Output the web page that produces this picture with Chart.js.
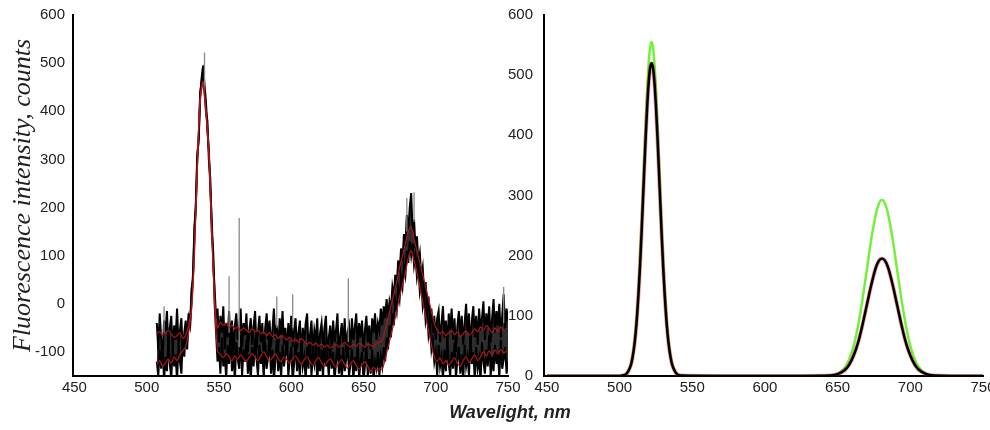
<!DOCTYPE html>
<html lang="en">
  <head>
    <meta charset="UTF-8" />
    <title>Fluorescence spectra</title>
    <script src="https://cdn.jsdelivr.net/npm/chart.js@4.4.0/dist/chart.umd.min.js"></script>
    <style>
      html,
      body {
        margin: 0;
        padding: 0;
        background: #fff;
        width: 990px;
        height: 430px;
        overflow: hidden;
      }
      .panel {
        position: absolute;
        top: 0;
      }
      #left {
        left: 0;
      }
      #right {
        left: 500px;
      }
      .xtitle {
        position: absolute;
        left: 410px;
        top: 402px;
        width: 200px;
        text-align: center;
        font: italic bold 18px 'Liberation Sans', Arial, sans-serif;
        color: #222;
      }
    </style>
  </head>
  <body>
    <canvas id="left" class="panel" width="524" height="430"></canvas>
    <canvas id="right" class="panel" width="500" height="430"></canvas>
    <div class="xtitle">Wavelight, nm</div>
    <script>
      // tick labels
      const xTicks = [450, 500, 550, 600, 650, 700, 750]
      const leftYTicks = [-100, 0, 100, 200, 300, 400, 500, 600]
      const rightYTicks = [0, 100, 200, 300, 400, 500, 600]

      // left panel: raw spectra, 1 nm step from 507 nm
      const rawStart = 507
      const rawUpper = [
        -40, -95, -20, -70, -115, -35, -60, -15, -90, -50,
        -25, -100, -45, -75, -10, -85, -55, -30, -105, -60,
        -35, -80, -30, -45, 10, 60, 140, 210, 300, 350,
        430, 470, 495, 455, 420, 360, 320, 240, 175, 90,
        30, -30, -10, -80, -25, -60, -5, -95, -40, -70,
        -15, -85, -35, -110, -45, -20, -75, -50, -10, -90,
        -40, -65, -20, -100, -55, -30, -85, -45, -15, -95,
        -60, -25, -80, -40, -110, -50, -20, -75, -35, -90,
        -55, -10, -70, -45, -100, -30, -65, -15, -85, -50,
        -105, -40, -75, -25, -90, -55, -30, -95, -60, -35,
        -110, -50, -80, -40, -20, -95, -65, -35, -100, -55,
        -75, -30, -115, -60, -40, -90, -50, -25, -105, -70,
        -45, -95, -35, -80, -55, -20, -110, -65, -40, -85,
        -30, -100, -60, -45, -95, -30, -75, -50, -20, -90,
        -40, -70, -35, -100, -55, -25, -80, -45, -95, -30,
        -60, -20, -75, -40, -55, -10, -45, -5, -30, 10,
        -30, 5, -10, 35, 15, 60, 35, 90, 65, 115,
        90, 145, 120, 185, 150, 200, 230, 150, 175, 115,
        140, 85, 105, 55, 75, 20, 45, -10, 15, -40,
        -10, -60, -25, -75, -30, -15, -80, -40, -5, -70,
        -35, -90, -20, -55, -10, -75, -30, -100, -45, -15,
        -65, -25, -85, -40, 0, -60, -20, -95, -35, -5,
        -70, -25, -85, -10, -55, -30, 5, -75, -20, -50,
        -5, -80, -30, 10, -60, -15, -45, 0, -70, -25,
        20, -55, -10, -35,
      ]
      const rawLower = [
        -120, -150, -95, -135, -80, -160, -110, -140, -75, -125,
        -155, -90, -130, -105, -160, -85, -120, -145, -70, -110,
        -60, -95, -20, -50, 30, 50, 160, 200, 310, 340,
        440, 460, 480, 440, 400, 380, 300, 260, 150, 110,
        0, -60, -120, -90, -145, -70, -130, -105, -155, -85,
        -125, -60, -140, -100, -160, -80, -115, -135, -65, -150,
        -95, -120, -75, -145, -105, -160, -90, -130, -70, -115,
        -150, -85, -125, -100, -155, -80, -135, -110, -65, -145,
        -95, -160, -120, -75, -140, -100, -155, -85, -130, -105,
        -70, -150, -115, -90, -160, -125, -80, -140, -100, -155,
        -75, -130, -110, -160, -90, -135, -65, -150, -105, -125,
        -85, -160, -115, -140, -95, -155, -70, -130, -110, -150,
        -85, -135, -100, -160, -120, -80, -145, -105, -160, -90,
        -140, -115, -75, -150, -125, -95, -160, -110, -140, -80,
        -155, -120, -100, -160, -130, -85, -150, -115, -145, -95,
        -160, -120, -135, -100, -150, -110, -130, -90, -120, -70,
        -95, -45, -70, -20, -45, 5, -15, 30, 10, 55,
        35, 80, 60, 110, 85, 130, 100, 125, 80, 100,
        55, 75, 25, 45, -5, 15, -35, -15, -65, -45,
        -95, -75, -120, -100, -150, -85, -130, -110, -160, -95,
        -140, -75, -125, -150, -100, -135, -80, -155, -115, -90,
        -145, -105, -160, -85, -130, -110, -150, -70, -125, -100,
        -155, -90, -135, -115, -160, -80, -120, -145, -95, -130,
        -65, -150, -110, -140, -85, -125, -100, -155, -75, -135,
        -115, -90, -145, -120,
      ]

      // left panel: smoothed spectra, 2 nm step from 507 nm
      const smoothStart = 507
      const smoothStep = 2
      const smoothUpper = [
        -62, -58, -65, -60, -55, -63, -70, -66, -60, -72, -65,
        -45, -10, 110, 290, 430, 462, 400, 320, 160, 10, -50,
        -38, -45, -40, -50, -44, -52, -48, -56, -50, -55, -60, -52, -58, -55,
        -62, -58, -66, -60, -68, -64, -72, -66, -70, -75, -70, -78, -74, -80,
        -72, -78, -84, -80, -86, -82, -88, -84, -90, -86, -92, -88, -84, -90,
        -86, -80, -86, -90, -84, -88, -82, -86, -90, -84, -86, -90, -82, -80,
        -75, -55, -30, -5, 20, 45, 75, 100, 125, 150, 160, 135, 110, 85, 60,
        35, 10, -15, -40, -55,
        -62, -58, -66, -60, -55, -64, -58, -68, -62, -56, -65, -60, -52, -58,
        -48, -55, -45, -52, -60, -50, -58, -48, -55, -50,
      ]
      const smoothLower = [
        -126, -118, -130, -122, -115, -124, -110, -118, -105, -98, -88,
        -60, -15, 100, 280, 420, 455, 395, 310, 150, 0, -98,
        -105, -112, -104, -110, -118, -108, -115, -106, -114, -120, -110, -104,
        -112, -118, -108, -100, -110, -118, -112, -104, -114, -120, -110, -116,
        -124, -114, -108, -118, -126, -116, -110, -120, -128, -118, -112, -122,
        -130, -120, -114, -124, -132, -122, -116, -126, -134, -124, -118, -128,
        -136, -126, -120, -130, -140, -132, -138, -135,
        -135, -115, -90, -65, -40, -15, 15, 40, 65, 95, 110, 90, 65, 35, 5,
        -25, -55, -85, -110, -120,
        -112, -124, -118, -128, -120, -112, -124, -130, -118, -110, -122, -114,
        -106, -118, -110, -100, -108, -98, -105, -96, -104, -95, -102, -98,
      ]

      // left panel: isolated gray spikes (wavelength, foot, top)
      const spikeWave = [512, 540, 557, 564, 590, 601, 639.5, 680, 685, 747]
      const spikeFoot = [-60, 440, -60, -90, -50, -50, -80, 150, 170, -40]
      const spikeTop = [-5, 522, 57, 178, 15, 20, 53, 220, 232, 35]

      // right panel: fitted curves
      const fitWave = [
        450, 500, 502, 504, 506, 508, 509, 510, 511, 512, 513, 514, 515, 516,
        517, 518, 519, 520, 521, 522, 523, 524, 525, 526, 527, 528, 529, 530,
        531, 532, 533, 534, 535, 536, 538, 540, 542, 600,
        645, 650, 655, 658, 661, 664, 667, 670, 673, 676, 678, 680, 681, 683,
        685, 688, 691, 694, 697, 700, 703, 706, 711, 716, 750,
      ]
      const fitBlack = [
        0, 0, 1, 2, 8, 20, 32, 48, 70, 99, 136, 180, 231, 287,
        344, 399, 448, 487, 512, 520, 512, 487, 448, 399, 344, 287, 231, 180,
        136, 99, 70, 48, 32, 20, 8, 2, 1, 0,
        1, 3, 10, 19, 34, 55, 84, 117, 150, 178, 190, 195, 195, 190,
        178, 150, 117, 84, 55, 34, 19, 10, 3, 1, 0,
      ]
      const fitGreen = [
        0, 0, 1, 3, 8, 22, 34, 51, 75, 106, 145, 193, 247, 306,
        367, 426, 478, 519, 546, 555, 546, 519, 478, 426, 367, 306, 247, 193,
        145, 106, 75, 51, 34, 22, 8, 3, 1, 0,
        1, 4, 14, 28, 50, 83, 126, 175, 225, 266, 284, 292, 292, 284,
        266, 225, 175, 126, 83, 50, 28, 14, 4, 1, 0,
      ]

      const tickFont = { family: "'Liberation Sans', Arial, sans-serif", size: 15 }
      const axisBorder = { display: true, color: '#000', width: 2 }

      const xAxis = (min, max) => ({
        type: 'linear',
        min: min,
        max: max,
        grid: { display: false, drawTicks: false },
        border: axisBorder,
        ticks: { color: '#222', font: tickFont, padding: 3, maxRotation: 0, autoSkip: false },
        afterBuildTicks: (s) => {
          s.ticks = xTicks.map((v) => ({ value: v }))
        },
        afterFit: (s) => {
          s.height = 54
        },
      })

      const yAxis = (min, max, tickList, width, pad) => ({
        min: min,
        max: max,
        grid: { display: false, drawTicks: false },
        border: axisBorder,
        ticks: { color: '#222', font: tickFont, padding: pad, autoSkip: false },
        afterBuildTicks: (s) => {
          s.ticks = tickList.map((v) => ({ value: v }))
        },
        afterFit: (s) => {
          s.width = width
          // keep the horizontal label gap from pushing the plot down
          s.paddingTop = 8
          s.paddingBottom = 8
        },
      })

      const line = (data, color, width, order, extra) =>
        Object.assign(
          {
            data: data,
            borderColor: color,
            borderWidth: width,
            pointRadius: 0,
            tension: 0,
            order: order,
          },
          extra || {}
        )

      const baseOptions = (padRight) => ({
        responsive: false,
        animation: false,
        layout: { padding: { left: 0, right: padRight, top: 15, bottom: 0 } },
        plugins: { legend: { display: false }, tooltip: { enabled: false } },
      })

      // left chart
      const rawU = rawUpper.map((y, i) => ({ x: rawStart + i, y: y }))
      const rawL = rawLower.map((y, i) => ({ x: rawStart + i, y: y }))
      const smU = smoothUpper.map((y, i) => ({ x: smoothStart + i * smoothStep, y: y }))
      const smL = smoothLower.map((y, i) => ({ x: smoothStart + i * smoothStep, y: y }))
      const spikes = []
      spikeWave.forEach((w, i) => {
        spikes.push({ x: w, y: spikeFoot[i] })
        spikes.push({ x: w, y: spikeTop[i] })
        spikes.push({ x: w, y: null })
      })

      const leftY = yAxis(-150, 600, leftYTicks, 73, 8)
      leftY.title = {
        display: true,
        text: 'Fluorescence intensity, counts',
        color: '#222',
        font: { family: "'Liberation Serif', 'Times New Roman', serif", style: 'italic', size: 26 },
        padding: { top: 8, bottom: 0 },
      }

      new Chart(document.getElementById('left'), {
        type: 'line',
        data: {
          datasets: [
            line(smU, '#b3141c', 1.2, 0, { tension: 0.3 }),
            line(smL, '#b3141c', 1.2, 1, { tension: 0.3 }),
            line(spikes, '#8a8a8a', 1.3, 2, { spanGaps: false }),
            // raw traces, the band between them shaded dark
            line(rawU, '#000', 2, 3, { fill: '+1', backgroundColor: 'rgba(0,0,0,0.82)' }),
            line(rawL, '#000', 2, 4),
          ],
        },
        options: Object.assign(baseOptions(16), {
          scales: { x: xAxis(449, 750), y: leftY },
        }),
      })

      // right chart
      const pts = (vals) => vals.map((y, i) => ({ x: fitWave[i], y: y }))
      new Chart(document.getElementById('right'), {
        type: 'line',
        data: {
          datasets: [
            line(pts(fitBlack), '#000', 2.5, 0, { cubicInterpolationMode: 'monotone' }),
            line(pts(fitBlack), 'rgba(215,40,40,0.45)', 4, 1, { cubicInterpolationMode: 'monotone' }),
            line(pts(fitGreen), '#74f03a', 2.5, 2, { cubicInterpolationMode: 'monotone' }),
          ],
        },
        options: Object.assign(baseOptions(17), {
          scales: { x: xAxis(448, 750), y: yAxis(0, 600, rightYTicks, 44, 11) },
        }),
      })
    </script>
  </body>
</html>
